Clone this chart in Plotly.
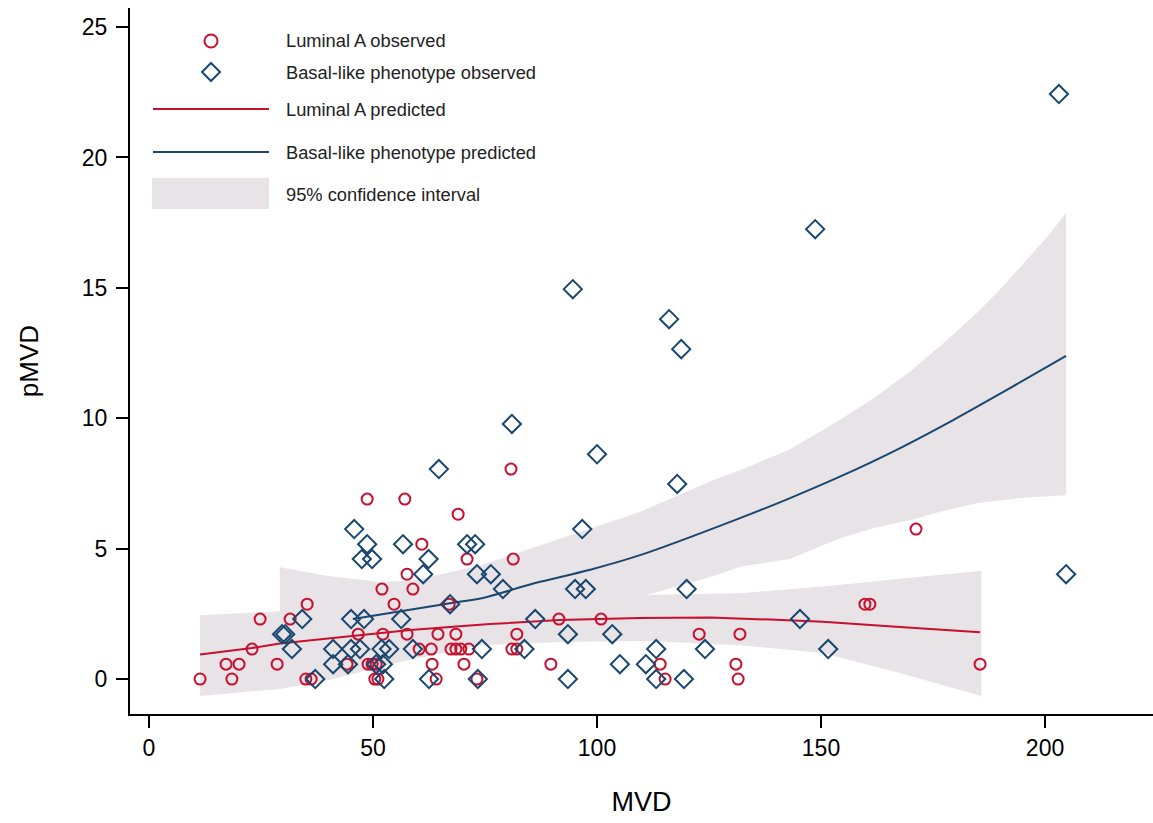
import plotly.graph_objects as go

# ---------------- data ----------------
lumA_x = [11.4, 18.5, 35.0, 36.2, 50.4, 51.1, 64.1, 73.2, 115.2, 131.5,
          17.2, 20.1, 28.6, 44.2, 48.9, 49.8, 50.7, 63.2, 70.3, 89.7, 114.1, 131.0, 185.5,
          23.0, 60.3, 63.0, 67.4, 68.5, 69.6, 71.4, 81.0, 82.1,
          46.7, 52.2, 57.6, 64.5, 68.5, 82.1, 122.8, 131.9,
          24.8, 31.5, 91.5, 100.9,
          35.3, 54.7, 67.0, 159.8, 160.9,
          52.0, 58.9,
          57.6,
          71.0, 81.3,
          60.9,
          171.2,
          69.0,
          48.7, 57.1,
          80.8]
lumA_y = [0.0] * 10 + [0.57] * 13 + [1.15] * 9 + [1.72] * 8 + [2.30] * 4 + \
         [2.87] * 5 + [3.45] * 2 + [4.02] + [4.60] * 2 + [5.17] + [5.75] + \
         [6.32] + [6.90] * 2 + [8.05]

basal_x = [203.1, 148.7, 94.6, 116.1, 118.8, 81.0, 100.0, 64.7, 117.9,
           45.8, 96.7,
           48.7, 56.7, 71.0, 72.8,
           47.5, 49.8, 62.4,
           61.2, 73.2, 76.3, 204.7,
           79.0, 95.1, 97.5, 120.0,
           67.2,
           34.2, 45.1, 48.0, 56.3, 86.2, 145.3,
           29.7, 30.4, 93.5, 103.4,
           31.9, 41.1, 45.1, 47.1, 51.9, 53.6, 58.9, 74.3, 83.8, 113.2, 124.1, 151.6,
           41.1, 44.4, 50.7, 52.2, 105.1, 110.9,
           37.1, 52.5, 62.5, 73.4, 93.5, 113.2, 119.4]
basal_y = [22.43, 17.25, 14.95, 13.8, 12.65, 9.78, 8.62, 8.05, 7.48,
           5.75, 5.75,
           5.17, 5.17, 5.17, 5.17,
           4.60, 4.60, 4.60,
           4.02, 4.02, 4.02, 4.02,
           3.45, 3.45, 3.45, 3.45,
           2.87,
           2.30, 2.30, 2.30, 2.30, 2.30, 2.30,
           1.72, 1.72, 1.72, 1.72,
           1.15, 1.15, 1.15, 1.15, 1.15, 1.15, 1.15, 1.15, 1.15, 1.15, 1.15, 1.15,
           0.57, 0.57, 0.57, 0.57, 0.57, 0.57,
           0.0, 0.0, 0.0, 0.0, 0.0, 0.0, 0.0]

lumA_fit_x = [11.4, 23.0, 29.2, 42.6, 58.3, 76.1, 91.7, 109.6, 125.2, 138.6, 150.4, 167.6, 185.5]
lumA_fit_y = [0.94, 1.19, 1.36, 1.61, 1.88, 2.11, 2.26, 2.34, 2.36, 2.28, 2.20, 2.00, 1.79]

lumA_ci_x = [11.4, 29.2, 40.0, 56.0, 74.0, 92.0, 111.4, 131.9, 150.4, 167.6, 185.8]
lumA_ci_hi = [2.45, 2.60, 2.62, 2.75, 2.92, 3.10, 3.22, 3.29, 3.55, 3.85, 4.15]
lumA_ci_lo = [-0.65, -0.38, -0.05, 0.65, 1.30, 1.42, 1.46, 1.30, 1.00, 0.23, -0.65]

basal_fit_x = [45.5, 67.2, 74.3, 86.2, 98.2, 109.6, 131.9, 143.1, 154.2, 167.0, 179.5, 190.6, 204.7]
basal_fit_y = [2.30, 2.91, 3.10, 3.68, 4.18, 4.75, 6.17, 6.94, 7.76, 8.80, 9.93, 11.0, 12.39]

basal_ci_x = [29.2, 40.0, 51.6, 59.0, 74.3, 92.0, 109.6, 126.0, 131.9, 143.0, 154.2, 162.0, 170.0,
              177.5, 185.0, 190.0, 195.0, 200.0, 204.7]
basal_ci_hi = [4.29, 3.95, 3.72, 3.78, 4.37, 5.40, 6.41, 7.63, 8.01, 8.80, 9.93, 10.8, 11.8,
               12.9, 14.07, 14.95, 15.9, 16.85, 17.87]
basal_ci_lo = [0.20, 0.70, 1.20, 1.50, 1.90, 2.55, 3.15, 3.95, 4.31, 4.60, 5.40, 5.80, 6.10,
               6.45, 6.75, 6.85, 6.95, 7.00, 7.05]

x_ticks = [0, 50, 100, 150, 200]
y_ticks = [0, 5, 10, 15, 20, 25]

legend_labels = ["Luminal A observed", "Basal-like phenotype observed",
                 "Luminal A predicted", "Basal-like phenotype predicted",
                 "95% confidence interval"]

RED = "#C8102E"
BLUE = "#1A476F"
GREY = "#E7E3E7"
FONT = "Liberation Sans, Arial, sans-serif"

fig = go.Figure()

for bx, hi, lo in [(lumA_ci_x, lumA_ci_hi, lumA_ci_lo), (basal_ci_x, basal_ci_hi, basal_ci_lo)]:
    fig.add_trace(go.Scatter(x=bx + bx[::-1], y=hi + lo[::-1], fill="toself",
                             fillcolor=GREY, line=dict(width=0), mode="lines",
                             hoverinfo="skip", showlegend=False))

fig.add_trace(go.Scatter(x=lumA_fit_x, y=lumA_fit_y, mode="lines",
                         line=dict(color=RED, width=2), showlegend=False))
fig.add_trace(go.Scatter(x=basal_fit_x, y=basal_fit_y, mode="lines", line_shape="spline",
                         line=dict(color=BLUE, width=2), showlegend=False))

fig.add_trace(go.Scatter(x=lumA_x, y=lumA_y, mode="markers",
                         marker=dict(symbol="circle-open", size=11, color=RED,
                                     line=dict(width=2, color=RED)),
                         showlegend=False))
fig.add_trace(go.Scatter(x=basal_x, y=basal_y, mode="markers",
                         marker=dict(symbol="diamond-open", size=14, color=BLUE,
                                     line=dict(width=2, color=BLUE)),
                         showlegend=False))

FIG_W, FIG_H = 1153, 823
L, T, W, H = 130, 8, 1023, 706          # plot area in page pixels
B = T + H

def px(xp):
    return (xp - L) / W
def py(yp):
    return (B - yp) / H

shapes = []
shapes.append(dict(type="circle", xref="paper", yref="paper", xsizemode="pixel", ysizemode="pixel",
                   xanchor=px(211), yanchor=py(41), x0=-6.5, x1=6.5, y0=-6.5, y1=6.5,
                   line=dict(color=RED, width=2)))
shapes.append(dict(type="path", xref="paper", yref="paper", xsizemode="pixel", ysizemode="pixel",
                   xanchor=px(211), yanchor=py(72), path="M -9,0 L 0,9 L 9,0 L 0,-9 Z",
                   line=dict(color=BLUE, width=2)))
shapes.append(dict(type="line", xref="paper", yref="paper", x0=px(153), x1=px(269),
                   y0=py(109), y1=py(109), line=dict(color=RED, width=2)))
shapes.append(dict(type="line", xref="paper", yref="paper", x0=px(153), x1=px(269),
                   y0=py(152), y1=py(152), line=dict(color=BLUE, width=2)))
shapes.append(dict(type="rect", xref="paper", yref="paper", x0=px(152), x1=px(269),
                   y0=py(209), y1=py(178), fillcolor=GREY, line=dict(width=0)))

annotations = []
for lbl, yy in zip(legend_labels, [41, 72, 109, 152, 194]):
    annotations.append(dict(text=lbl, xref="paper", yref="paper", x=px(284), y=py(yy),
                            xanchor="left", yanchor="middle", showarrow=False,
                            font=dict(family=FONT, size=18.3, color="#222222")))

fig.update_layout(
    width=FIG_W, height=FIG_H,
    margin=dict(l=L, r=FIG_W - L - W, t=T, b=FIG_H - B, autoexpand=False),
    paper_bgcolor="white", plot_bgcolor="white",
    shapes=shapes, annotations=annotations,
    showlegend=False,
    xaxis=dict(range=[-4.24, 224.1], tickvals=x_ticks, showgrid=False, zeroline=False,
               showline=True, linecolor="black", linewidth=2, ticks="outside",
               ticklen=12, tickwidth=1.5, tickcolor="black", automargin=False,
               tickfont=dict(family=FONT, size=23, color="black"),
               title=dict(text="MVD", font=dict(family=FONT, size=27, color="black"), standoff=33)),
    yaxis=dict(range=[-1.34, 25.73], tickvals=y_ticks, showgrid=False, zeroline=False,
               showline=True, linecolor="black", linewidth=2, ticks="outside",
               ticklen=12, tickwidth=1.5, tickcolor="black", automargin=False,
               ticklabelstandoff=4,
               tickfont=dict(family=FONT, size=23, color="black"),
               title=dict(text="pMVD", font=dict(family=FONT, size=26, color="black"), standoff=36)),
)

fig.write_html("out.html",
               config={"displayModeBar": False},
               post_script="document.body.style.margin='0';"
                           "document.documentElement.style.overflow='hidden';"
                           "document.body.style.overflow='hidden';")
